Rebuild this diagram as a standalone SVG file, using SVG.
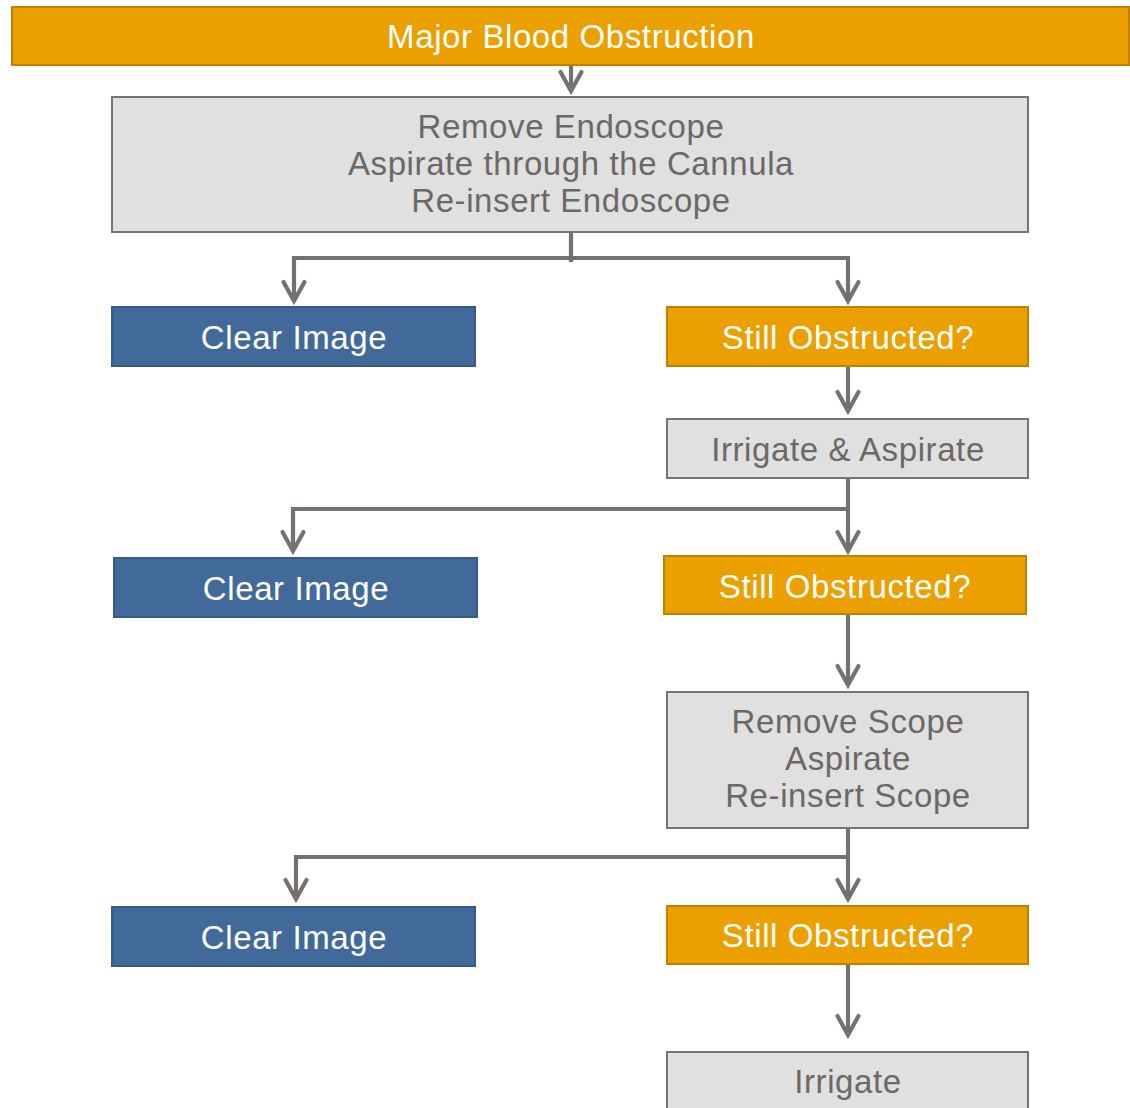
<svg xmlns="http://www.w3.org/2000/svg" width="1130" height="1108" viewBox="0 0 1130 1108">
<defs>
<marker id="chev" markerUnits="userSpaceOnUse" markerWidth="40" markerHeight="40" refX="0" refY="0" orient="auto" overflow="visible">
<path d="M-19,-10.5 L0,0 L-19,10.5" fill="none" stroke="#75716E" stroke-width="4.2" stroke-linecap="round" stroke-linejoin="miter"/>
</marker>
<style>
.orange{fill:#EBA000;stroke:#BF8200;stroke-width:2}
.gray{fill:#E0E0E0;stroke:#777370;stroke-width:2}
.blue{fill:#41699A;stroke:#38598A;stroke-width:2}
text{font-family:"Liberation Sans",Arial,sans-serif;font-size:33px;text-anchor:middle;letter-spacing:0.6px}
.w{fill:#FFFFFF}
.g{fill:#6B6866}
.conn path{fill:none;stroke:#75716E;stroke-width:4.2;stroke-linejoin:miter}
.arr{marker-end:url(#chev)}
</style>
</defs>
<rect width="1130" height="1108" fill="#FFFFFF"/>
<g class="conn" id="connectors">
<path class="arr" d="M571,65 V91"/>
<path d="M571,232 V262"/>
<path class="arr" d="M571,258 H294 V301"/>
<path class="arr" d="M571,258 H848 V301"/>
<path class="arr" d="M848,366 V411"/>
<path class="arr" d="M848,478 V551"/>
<path class="arr" d="M848,509 H293 V551"/>
<path class="arr" d="M848,614 V685"/>
<path class="arr" d="M848,828 V899"/>
<path class="arr" d="M848,857 H296 V899"/>
<path class="arr" d="M848,964 V1035"/>
</g>
<g id="n_major"><rect class="orange" x="12" y="7" width="1117" height="58"/><text class="w" x="571" y="48">Major Blood Obstruction</text></g>
<g id="n_remove1"><rect class="gray" x="112" y="97" width="916" height="135"/><text class="g" x="571" y="138">Remove Endoscope</text><text class="g" x="571" y="175">Aspirate through the Cannula</text><text class="g" x="571" y="212">Re-insert Endoscope</text></g>
<g id="n_clear1"><rect class="blue" x="112" y="307" width="363" height="59"/><text class="w" x="294" y="349">Clear Image</text></g>
<g id="n_still1"><rect class="orange" x="667" y="307" width="361" height="59"/><text class="w" x="848" y="349">Still Obstructed?</text></g>
<g id="n_irrasp"><rect class="gray" x="667" y="419" width="361" height="59"/><text class="g" x="848" y="461">Irrigate &amp; Aspirate</text></g>
<g id="n_clear2"><rect class="blue" x="114" y="558" width="363" height="59"/><text class="w" x="296" y="600">Clear Image</text></g>
<g id="n_still2"><rect class="orange" x="664" y="556" width="362" height="58"/><text class="w" x="845" y="598">Still Obstructed?</text></g>
<g id="n_remove2"><rect class="gray" x="667" y="692" width="361" height="136"/><text class="g" x="848" y="733">Remove Scope</text><text class="g" x="848" y="770">Aspirate</text><text class="g" x="848" y="807">Re-insert Scope</text></g>
<g id="n_clear3"><rect class="blue" x="112" y="907" width="363" height="59"/><text class="w" x="294" y="949">Clear Image</text></g>
<g id="n_still3"><rect class="orange" x="667" y="906" width="361" height="58"/><text class="w" x="848" y="947">Still Obstructed?</text></g>
<g id="n_irrigate"><rect class="gray" x="667" y="1052" width="361" height="70"/><text class="g" x="848" y="1093">Irrigate</text></g>
</svg>
